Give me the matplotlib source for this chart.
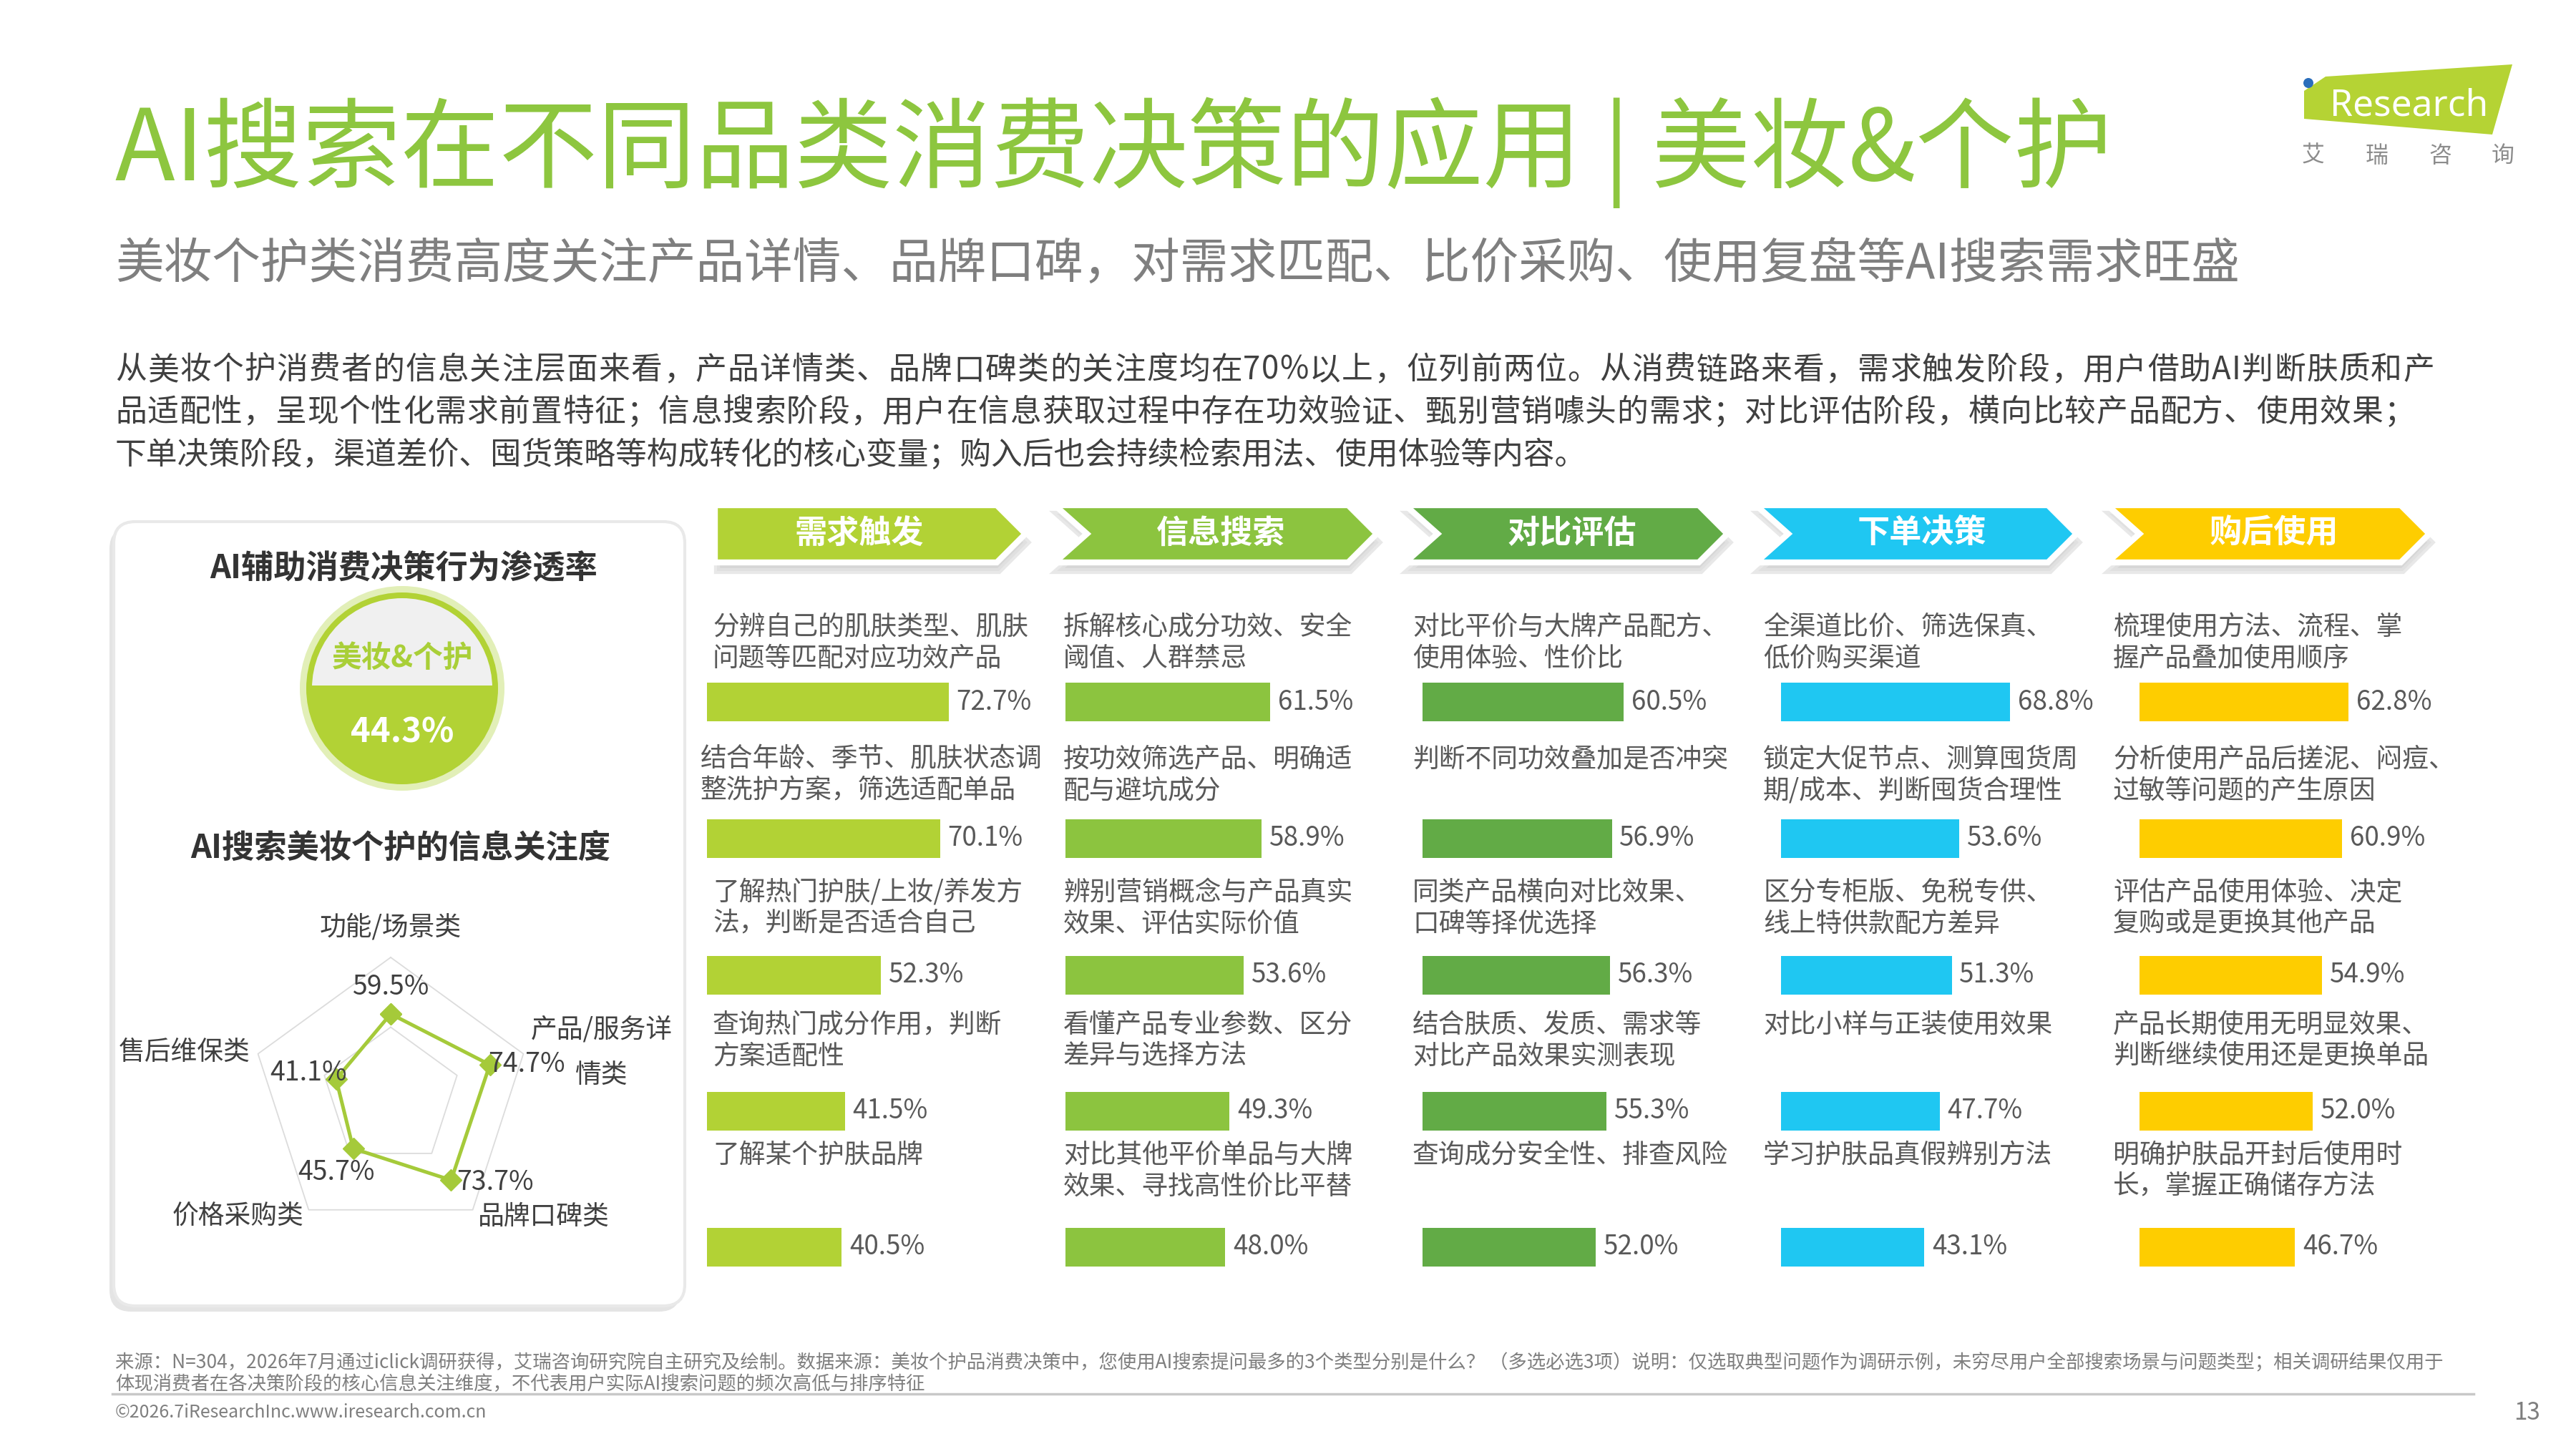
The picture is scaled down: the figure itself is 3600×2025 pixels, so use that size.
import matplotlib
matplotlib.use("Agg")
import matplotlib.pyplot as plt
import numpy as np
from matplotlib.patches import Polygon, Circle, FancyBboxPatch, Rectangle
from matplotlib.font_manager import FontProperties

FAMILY = ['Noto Sans CJK SC', 'DejaVu Sans']
plt.rcParams['font.family'] = FAMILY

W, H = 3600, 2025

#%% data
title = "AI搜索在不同品类消费决策的应用 | 美妆&个护"
subtitle = "美妆个护类消费高度关注产品详情、品牌口碑，对需求匹配、比价采购、使用复盘等AI搜索需求旺盛"
body_lines = [
    "从美妆个护消费者的信息关注层面来看，产品详情类、品牌口碑类的关注度均在70%以上，位列前两位。从消费链路来看，需求触发阶段，用户借助AI判断肤质和产",
    "品适配性，呈现个性化需求前置特征；信息搜索阶段，用户在信息获取过程中存在功效验证、甄别营销噱头的需求；对比评估阶段，横向比较产品配方、使用效果；",
    "下单决策阶段，渠道差价、囤货策略等构成转化的核心变量；购入后也会持续检索用法、使用体验等内容。",
]
footnote = [
    "来源：N=304，2026年7月通过iclick调研获得，艾瑞咨询研究院自主研究及绘制。数据来源：美妆个护品消费决策中，您使用AI搜索提问最多的3个类型分别是什么？ （多选必选3项）说明：仅选取典型问题作为调研示例，未穷尽用户全部搜索场景与问题类型；相关调研结果仅用于",
    "体现消费者在各决策阶段的核心信息关注维度，不代表用户实际AI搜索问题的频次高低与排序特征",
]
copyright_txt = "©2026.7iResearchInc.www.iresearch.com.cn"
page_no = "13"

panel_title1 = "AI辅助消费决策行为渗透率"
panel_title2 = "AI搜索美妆个护的信息关注度"
category = "美妆&个护"
penetration = 44.3

radar_cats = ["功能/场景类", "产品/服务详\n情类", "品牌口碑类", "价格采购类", "售后维保类"]
radar_vals = [59.5, 74.7, 73.7, 45.7, 41.1]

stages = ["需求触发", "信息搜索", "对比评估", "下单决策", "购后使用"]
stage_colors = ["#b2d235", "#8cc43f", "#62ab46", "#1fc7f2", "#fecd00"]

demand_labels = ["分辨自己的肌肤类型、肌肤\n问题等匹配对应功效产品",
                 "结合年龄、季节、肌肤状态调\n整洗护方案，筛选适配单品",
                 "了解热门护肤/上妆/养发方\n法，判断是否适合自己",
                 "查询热门成分作用，判断\n方案适配性",
                 "了解某个护肤品牌"]
demand_vals = [72.7, 70.1, 52.3, 41.5, 40.5]

search_labels = ["拆解核心成分功效、安全\n阈值、人群禁忌",
                 "按功效筛选产品、明确适\n配与避坑成分",
                 "辨别营销概念与产品真实\n效果、评估实际价值",
                 "看懂产品专业参数、区分\n差异与选择方法",
                 "对比其他平价单品与大牌\n效果、寻找高性价比平替"]
search_vals = [61.5, 58.9, 53.6, 49.3, 48.0]

compare_labels = ["对比平价与大牌产品配方、\n使用体验、性价比",
                  "判断不同功效叠加是否冲突",
                  "同类产品横向对比效果、\n口碑等择优选择",
                  "结合肤质、发质、需求等\n对比产品效果实测表现",
                  "查询成分安全性、排查风险"]
compare_vals = [60.5, 56.9, 56.3, 55.3, 52.0]

order_labels = ["全渠道比价、筛选保真、\n低价购买渠道",
                "锁定大促节点、测算囤货周\n期/成本、判断囤货合理性",
                "区分专柜版、免税专供、\n线上特供款配方差异",
                "对比小样与正装使用效果",
                "学习护肤品真假辨别方法"]
order_vals = [68.8, 53.6, 51.3, 47.7, 43.1]

after_labels = ["梳理使用方法、流程、掌\n握产品叠加使用顺序",
                "分析使用产品后搓泥、闷痘、\n过敏等问题的产生原因",
                "评估产品使用体验、决定\n复购或是更换其他产品",
                "产品长期使用无明显效果、\n判断继续使用还是更换单品",
                "明确护肤品开封后使用时\n长，掌握正确储存方法"]
after_vals = [62.8, 60.9, 54.9, 52.0, 46.7]

col_labels = [demand_labels, search_labels, compare_labels, order_labels, after_labels]
col_vals = [demand_vals, search_vals, compare_vals, order_vals, after_vals]

#%% figure
fig = plt.figure(figsize=(W / 100, H / 100), dpi=100)
ax0 = fig.add_axes([0, 0, 1, 1])
ax0.set_xlim(0, W)
ax0.set_ylim(H, 0)
ax0.axis('off')

dark = '#404040'
grey = '#595959'

# title block
ax0.text(161, 213, title, fontsize=99, color='#8dc63f', va='center', weight='light')
ax0.text(161, 370, subtitle, fontsize=48.7, color='#7f7f7f', va='center')


def justify(y, s, x0, x1, size, color):
    # spread the characters so the line fills x0..x1, like the justified paragraph
    r = fig.canvas.get_renderer()
    fp = FontProperties(family=FAMILY, size=size)
    ws = [r.get_text_width_height_descent(c, fp, ismath=False)[0] for c in s]
    gap = (x1 - x0 - sum(ws)) / (len(s) - 1)
    x = x0
    for c, w in zip(s, ws):
        ax0.text(x, y, c, fontsize=size, color=color, va='center', ha='left')
        x += w + gap


body_y = [517, 576, 636]
justify(body_y[0], body_lines[0], 161, 3402, 31.5, dark)
justify(body_y[1], body_lines[1], 161, 3375, 31.5, dark)
ax0.text(161, body_y[2], body_lines[2], fontsize=31.5, color=dark, va='center')

# logo
ax0.add_patch(Polygon([(3220, 127), (3250, 107), (3511, 90), (3483, 188), (3220, 166)],
                      closed=True, color='#b5d334', lw=0))
ax0.add_patch(Circle((3226, 116), 7, color='#2a6ebb', lw=0))
ax0.text(3256, 161, "Research", fontsize=37, color='white', family='Noto Sans', va='baseline')
for xx, ch in zip([3233, 3322, 3410, 3498], "艾瑞咨询"):
    ax0.text(xx, 218, ch, fontsize=23, color='#8c8c8c', ha='center', va='center')

#%% left panel
ax0.add_patch(FancyBboxPatch((153, 737), 798, 1096, boxstyle="round,pad=0,rounding_size=30",
                             facecolor='#d9d9d9', edgecolor='none', alpha=0.7))
ax0.add_patch(FancyBboxPatch((159, 729), 798, 1096, boxstyle="round,pad=0,rounding_size=30",
                             facecolor='white', edgecolor='#e9e9e9', lw=3))
ax0.text(564, 795, panel_title1, fontsize=32.6, weight='bold', color='#333333', ha='center', va='center')
ax0.text(560, 1186, panel_title2, fontsize=32.6, weight='bold', color='#333333', ha='center', va='center')

# penetration circle
ax0.add_patch(Circle((562, 962), 143, color='#e2efb8', lw=0))
ax0.add_patch(Circle((562, 962), 134, color='#b2d235', lw=0))
top_half = Circle((562, 962), 126, color='#f0f0f0', lw=0)
ax0.add_patch(top_half)
top_half.set_clip_path(Rectangle((0, 0), W, 958, transform=ax0.transData))
ax0.text(562, 921, category, fontsize=30, weight='bold', color='#a9cf38', ha='center', va='center')
ax0.text(562, 1024, f"{penetration}%", fontsize=34, weight='bold', color='white', ha='center', va='center')

# radar
cx, cy, R = 546, 1533, 195
axr = fig.add_axes([(cx - R) / W, 1 - (cy + R) / H, 2 * R / W, 2 * R / H], projection='polar')
axr.set_theta_offset(np.pi / 2)
axr.set_theta_direction(-1)
ang = np.linspace(0, 2 * np.pi, len(radar_vals), endpoint=False)
ang_c = np.append(ang, ang[0])
for g in (50, 100):
    axr.plot(ang_c, [g] * len(ang_c), color='#dcdcdc', lw=1.3, clip_on=False)
axr.plot(ang_c, np.append(radar_vals, radar_vals[0]), color='#a5ca3a', lw=3.6,
         marker='D', ms=15, clip_on=False)
axr.set_ylim(0, 100)
axr.axis('off')
val_off = [(0, 37), (51, 0), (61, -3), (-24, -33), (-39, 9)]
for a, v, (dx, dy) in zip(ang, radar_vals, val_off):
    axr.annotate(f"{v}%", (a, v), xytext=(dx * 0.72, dy * 0.72), textcoords='offset points',
                 fontsize=27, color=dark, ha='center', va='center', annotation_clip=False)
cat_pos = [(546, 1296), (841, 1439), (760, 1700), (332, 1700), (258, 1470)]
for (x, y), c in zip(cat_pos, radar_cats):
    for j, line in enumerate(c.split("\n")):
        ax0.text(x, y + 64 * j, line, fontsize=26.5, color=dark, ha='center', va='center')

#%% stage headers
hdr_left = [999, 1474, 1964, 2454, 2945]
hdr_tip = [1433, 1924, 2414, 2902, 3395]
top, bot, mid = 706, 786, 746
for i, (L, T) in enumerate(zip(hdr_left, hdr_tip)):
    d = 0 if i == 0 else 45
    pts = [(L, top), (T - 40, top), (T, mid), (T - 40, bot), (L, bot), (L + d, mid)]
    sh = [(x + 3, y + 12) for x, y in pts]
    ax0.add_patch(Polygon(sh, closed=True, facecolor='#cccccc', edgecolor='#e3e3e3', lw=6, alpha=0.8))
    ax0.add_patch(Polygon(pts, closed=True, facecolor=stage_colors[i], edgecolor='white', lw=6))
    ax0.text((L + d + T) / 2 - 15, mid, stages[i], fontsize=32.5, weight='bold', color='white',
             ha='center', va='center')

#%% bars
bar_left = [988, 1489, 1988, 2489, 2990]
text_left = [996, 1486, 1974, 2464, 2953]
bar_y = [981, 1172, 1363, 1553, 1743]
label_y = [876, 1061, 1247, 1432, 1614]
px_per_pct = 4.65
for i in range(5):
    axb = fig.add_axes([bar_left[i] / W, 1 - 1800 / H, 100 * px_per_pct / W, 900 / H])
    axb.set_xlim(0, 100)
    axb.set_ylim(1800, 900)
    axb.axis('off')
    axb.barh(bar_y, col_vals[i], height=54, color=stage_colors[i])
    for y, v in zip(bar_y, col_vals[i]):
        axb.text(v + 2.3, y, f"{v:.1f}%", fontsize=26.5, color=grey, va='center')
    for k, lab in enumerate(col_labels[i]):
        x = text_left[i]
        if i == 0 and k == 1:
            x = 979
        for j, line in enumerate(lab.split("\n")):
            ax0.text(x, label_y[k] + 44 * j, line, fontsize=26.5, color=grey, va='center')

#%% footer
ax0.text(161, 1905, footnote[0], fontsize=19, color='#7f7f7f', va='center')
ax0.text(161, 1934, footnote[1], fontsize=19, color='#7f7f7f', va='center')
ax0.plot([157, 3457], [1948, 1948], color='#c8c8c8', lw=2.5)
ax0.text(161, 1974, copyright_txt, fontsize=18, color='#7f7f7f', va='center')
ax0.text(3532, 1974, page_no, fontsize=24, color='#7f7f7f', ha='center', va='center')

fig.savefig('out.png', dpi=100)
